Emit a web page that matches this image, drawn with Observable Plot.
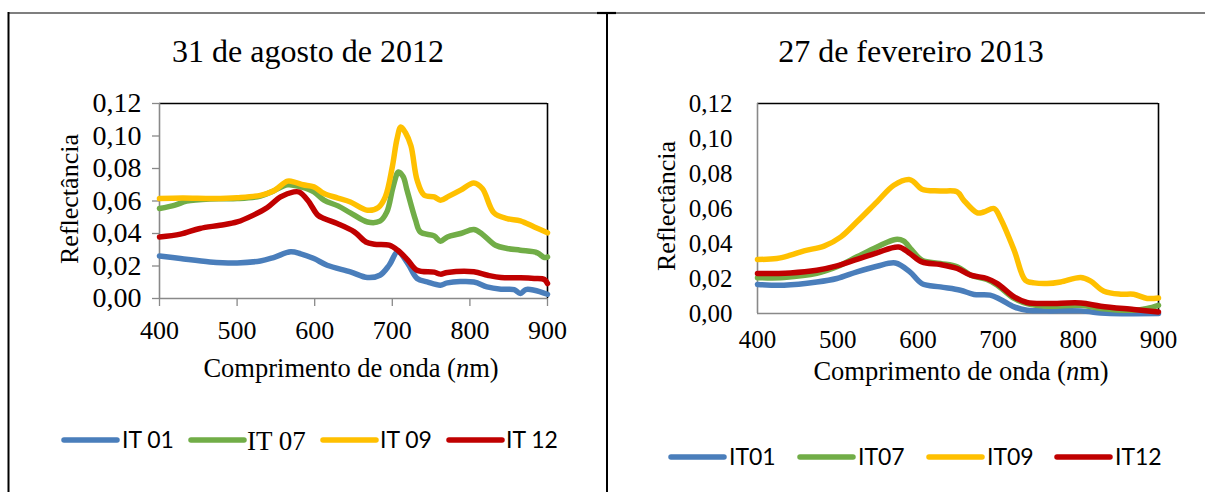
<!DOCTYPE html>
<html>
<head>
<meta charset="utf-8">
<script src="https://cdn.jsdelivr.net/npm/d3@7"></script>
<script src="https://cdn.jsdelivr.net/npm/@observablehq/plot@0.6"></script>
<style>
  html, body { margin: 0; padding: 0; background: #fff; }
  #page { position: relative; width: 1205px; height: 492px; overflow: hidden; background: #fff; }
  .chart { position: absolute; top: 0; }
  #overlay { position: absolute; left: 0; top: 0; }
  .lg { font-variant-numeric: lining-nums; font-feature-settings: "lnum" 1; }
</style>
</head>
<body>
<div id="page">
  <div id="c1" class="chart" style="left:0px"></div>
  <div id="c2" class="chart" style="left:600px"></div>
</div>
<script>
// ---------- data ----------
const seriesAug = ["IT 01", "IT 07", "IT 09", "IT 12"];
const seriesFeb = ["IT01", "IT07", "IT09", "IT12"];
const seriesColors = ["#4a7ebb", "#71ad47", "#ffc000", "#c00000"];
const xTicks = [400, 500, 600, 700, 800, 900];
const yTicks = [0, 0.02, 0.04, 0.06, 0.08, 0.10, 0.12];
const titleAug = "31 de agosto de 2012";
const titleFeb = "27 de fevereiro 2013";
const yTitle = "Reflectância";

// 31 de agosto de 2012: [wavelength nm, reflectance]
const aug_IT01 = [[400,.0262],[427,.0246],[465,.0225],[500,.0219],[530,.0231],[547,.0252],[569,.0287],[582,.0275],[599,.0246],[616,.0205],[646,.0164],[668,.0129],[684,.0143],[696,.0205],[707,.0287],[720,.0215],[732,.0123],[745,.0102],[762,.0082],[771,.0096],[805,.0102],[822,.0071],[840,.0057],[857,.0055],[865,.0031],[872,.0055],[883,.0051],[900,.0026]];
const aug_IT07 = [[400,.0554],[420,.0575],[435,.0599],[465,.0613],[500,.0615],[530,.0630],[547,.0662],[565,.0700],[582,.0687],[599,.0656],[612,.0605],[630,.0570],[646,.0527],[668,.0471],[684,.0476],[693,.0533],[701,.0687],[708,.0779],[714,.0750],[719,.0666],[730,.0482],[736,.0410],[754,.0385],[762,.0353],[771,.0379],[788,.0400],[805,.0425],[816,.0396],[833,.0328],[848,.0308],[865,.0297],[887,.0281],[896,.0252],[900,.0256]];
const aug_IT09 = [[400,.0615],[430,.0618],[470,.0615],[500,.0620],[530,.0635],[548,.0665],[565,.0722],[575,.0715],[585,.0700],[599,.0687],[612,.0646],[630,.0618],[646,.0594],[668,.0543],[682,.0560],[691,.0625],[700,.0810],[706,.0980],[711,.1056],[717,.1020],[724,.0940],[732,.0728],[741,.0636],[754,.0625],[762,.0605],[773,.0630],[788,.0667],[805,.0711],[816,.0677],[831,.0527],[848,.0492],[865,.0478],[883,.0440],[900,.0404]];
const aug_IT12 = [[400,.0379],[427,.0396],[452,.0431],[478,.0451],[500,.0471],[521,.0513],[539,.0560],[556,.0625],[573,.0656],[580,.0655],[591,.0605],[604,.0513],[612,.0492],[629,.0461],[651,.0410],[666,.0348],[677,.0334],[696,.0328],[707,.0297],[720,.0236],[732,.0174],[754,.0162],[762,.0150],[771,.0160],[805,.0164],[823,.0143],[840,.0129],[865,.0127],[883,.0123],[896,.0117],[900,.0092]];

// 27 de fevereiro 2013
const feb_IT01 = [[400,.0166],[433,.0162],[474,.0180],[499,.0200],[524,.0238],[549,.0270],[572,.0289],[590,.0238],[605,.0171],[628,.0152],[653,.0133],[670,.0109],[690,.0105],[703,.0080],[720,.0038],[736,.0019],[761,.0015],[803,.0015],[828,.0003],[840,.0000],[900,.0000]];
const feb_IT07 = [[400,.0204],[433,.0206],[474,.0229],[499,.0267],[524,.0324],[549,.0380],[572,.0423],[582,.0415],[592,.0365],[605,.0305],[628,.0286],[649,.0267],[666,.0219],[686,.0194],[699,.0162],[720,.0086],[736,.0057],[761,.0042],[803,.0047],[828,.0029],[869,.0019],[886,.0029],[900,.0047]];
const feb_IT09 = [[400,.0309],[424,.0314],[441,.0333],[458,.0358],[483,.0385],[504,.0438],[524,.0524],[549,.0638],[570,.0733],[589,.0766],[595,.0752],[605,.0710],[628,.0700],[649,.0695],[657,.0648],[674,.0575],[682,.0580],[695,.0600],[703,.0543],[720,.0362],[734,.0190],[745,.0175],[761,.0171],[778,.0180],[803,.0206],[815,.0186],[832,.0127],[853,.0110],[869,.0110],[886,.0086],[900,.0089]];
const feb_IT12 = [[400,.0229],[441,.0232],[474,.0247],[499,.0272],[524,.0309],[549,.0347],[576,.0380],[590,.0343],[605,.0295],[628,.0280],[649,.0257],[666,.0219],[686,.0200],[699,.0171],[720,.0095],[736,.0063],[761,.0057],[803,.0060],[828,.0042],[869,.0023],[900,.0009]];

// ---------- helpers ----------
const toRows = (names, arrays) => names.flatMap((s, i) => arrays[i].map(([nm, v]) => ({series: s, nm, v})));
const fmt = d => d.toFixed(2).replace(".", ",");
const serif = "'Liberation Serif','Times New Roman',serif";
const sans = "Lato, 'Open Sans', sans-serif";
const GRAY = "#898989";

function makeChart(rows, names, opts) {
  const p = Plot.plot({
    width: opts.width, height: opts.height,
    marginLeft: opts.ml, marginRight: opts.mr, marginTop: opts.mt, marginBottom: opts.mb,
    style: {fontFamily: serif, fontSize: "25px", color: "#000", background: "transparent", overflow: "visible"},
    x: {domain: [400, 900]},
    y: {domain: [0, 0.12]},
    color: {domain: names, range: seriesColors},
    marks: [
      Plot.ruleY([0.12], {stroke: "#000", strokeWidth: 1.3}),
      Plot.ruleX([900], {stroke: "#000", strokeWidth: 1.6}),
      Plot.axisX({ticks: xTicks, tickSize: opts.xTickSize, tickPadding: opts.xPad, tickFormat: d => String(d), label: null, stroke: GRAY, fontSize: opts.xFont}),
      Plot.axisY({ticks: yTicks, tickSize: opts.yTickSize, tickPadding: opts.yPad, tickFormat: fmt, label: null, stroke: GRAY, fontSize: opts.yFont}),
      Plot.ruleX([400], {stroke: GRAY, strokeWidth: 1.6}),
      Plot.ruleY([0], {stroke: GRAY, strokeWidth: 1.6}),
      Plot.line(rows, {x: "nm", y: "v", z: "series", stroke: "series", strokeWidth: 5.5, curve: "catmull-rom", strokeLinejoin: "round", strokeLinecap: "round"})
    ]
  });
  d3.select(p).selectAll("g[aria-label$='tick label'] text").attr("fill", "#000");
  d3.select(p).selectAll("g[aria-label$='-axis tick'] path").attr("stroke", GRAY).attr("stroke-width", 1.3);
  return p;
}

document.getElementById("c1").appendChild(makeChart(
  toRows(seriesAug, [aug_IT01, aug_IT07, aug_IT09, aug_IT12]), seriesAug,
  {width: 610, height: 350, ml: 159, mr: 63, mt: 103, mb: 52, xTickSize: 8, xPad: 14, yTickSize: 7, yPad: 11, xFont: "26px", yFont: "28px"}
));
document.getElementById("c2").appendChild(makeChart(
  toRows(seriesFeb, [feb_IT01, feb_IT07, feb_IT09, feb_IT12]), seriesFeb,
  {width: 605, height: 370, ml: 157, mr: 47, mt: 103, mb: 57, xTickSize: 0, xPad: 17, yTickSize: 0, yPad: 25, xFont: "25px", yFont: "25px"}
));

// ---------- overlay: frame, titles, axis titles, legends ----------
const svg = d3.select("#page").append("svg").attr("id", "overlay")
  .attr("width", 1205).attr("height", 492);

// page frame (table borders)
svg.append("line").attr("x1", 8).attr("x2", 1205).attr("y1", 13).attr("y2", 13).attr("stroke", "#000").attr("stroke-width", 1.2);
svg.append("line").attr("x1", 8.5).attr("x2", 8.5).attr("y1", 12).attr("y2", 492).attr("stroke", "#000").attr("stroke-width", 2);
svg.append("line").attr("x1", 607).attr("x2", 607).attr("y1", 12).attr("y2", 492).attr("stroke", "#000").attr("stroke-width", 2);
svg.append("line").attr("x1", 597).attr("x2", 616).attr("y1", 13).attr("y2", 13).attr("stroke", "#000").attr("stroke-width", 2.2);

const addText = (txt, x, y, size, family, anchor = "middle", rotate = false) => {
  const t = svg.append("text").attr("x", x).attr("y", y).attr("font-size", size).attr("font-family", family)
    .attr("text-anchor", anchor).attr("fill", "#000").text(txt);
  if (rotate) t.attr("transform", `rotate(-90 ${x} ${y})`);
  return t;
};

addText(titleAug, 308, 62, 32, serif);
addText(titleFeb, 911, 62, 32, serif);
addText(yTitle, 78, 199, 26, serif, "middle", true);
addText(yTitle, 675, 206, 26, serif, "middle", true);

const xTitle = (x, y) => {
  const t = svg.append("text").attr("x", x).attr("y", y).attr("font-size", 26.5).attr("font-family", serif)
    .attr("text-anchor", "middle").attr("fill", "#000");
  t.append("tspan").text("Comprimento de onda (");
  t.append("tspan").attr("font-style", "italic").text("n");
  t.append("tspan").text("m)");
};
xTitle(351, 377);
xTitle(961, 380);

// legends
const legend = (names, lineX, textX, y, fonts) => {
  names.forEach((n, i) => {
    svg.append("line").attr("x1", lineX[i]).attr("x2", lineX[i] + 53).attr("y1", y).attr("y2", y)
      .attr("stroke", seriesColors[i]).attr("stroke-width", 5.5).attr("stroke-linecap", "round");
    svg.append("text").attr("class", "lg").attr("x", textX[i]).attr("y", y + fonts[i][2]).attr("font-size", fonts[i][1]).attr("font-family", fonts[i][0])
      .attr("fill", "#000").text(n);
  });
};
legend(seriesAug, [64, 191, 323, 449], [122, 247, 380, 506], 440,
  [[sans, 23, 8], [serif, 27, 10], [sans, 23, 8], [sans, 23, 8]]);
legend(seriesFeb, [671, 800, 929, 1057], [729, 858, 987, 1115], 457,
  [[sans, 23, 8], [sans, 23, 8], [sans, 23, 8], [sans, 23, 8]]);
</script>
</body>
</html>
